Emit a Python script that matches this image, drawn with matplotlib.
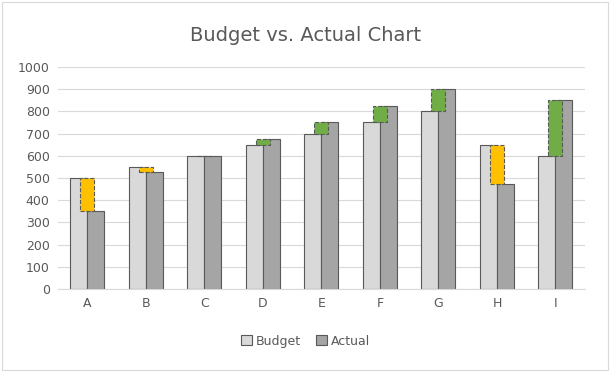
import matplotlib.pyplot as plt
import numpy as np

categories = ['A', 'B', 'C', 'D', 'E', 'F', 'G', 'H', 'I']
budget = [500, 550, 600, 650, 700, 750, 800, 650, 600]
actual = [350, 525, 600, 675, 750, 825, 900, 475, 850]

fig = plt.figure(figsize=(6.11, 3.72), dpi=100)
ax = fig.add_axes([0.095, 0.223, 0.862, 0.597])

x = np.arange(len(categories))
w = 0.29
ax.bar(x - w / 2, budget, w, color='#D9D9D9', edgecolor='#595959',
       linewidth=0.8, label='Budget', zorder=2)
ax.bar(x + w / 2, actual, w, color='#A5A5A5', edgecolor='#595959',
       linewidth=0.8, label='Actual', zorder=2)

# variance bars floating between budget and actual
for i in range(len(categories)):
    lo = min(budget[i], actual[i])
    hi = max(budget[i], actual[i])
    col = '#70AD47' if actual[i] >= budget[i] else '#FFC000'
    ax.bar(x[i], hi - lo, 0.24, bottom=lo, color=col, edgecolor='#595959',
           linewidth=0.8, linestyle='--', zorder=3)

ax.set_xlim(-0.5, len(categories) - 0.5)
ax.set_ylim(0, 1000)
ax.set_yticks(range(0, 1001, 100))
ax.set_xticks(x)
ax.set_xticklabels(categories)
ax.yaxis.grid(True, color='#D9D9D9', linewidth=0.8, zorder=0)
ax.set_axisbelow(True)
for s in ['top', 'right', 'left']:
    ax.spines[s].set_visible(False)
ax.spines['bottom'].set_color('#D9D9D9')
ax.tick_params(length=0, labelsize=9, colors='#595959', pad=6)

fig.text(0.5, 0.905, 'Budget vs. Actual Chart', ha='center', va='center',
         fontsize=14, color='#595959')
fig.legend(*ax.get_legend_handles_labels(), loc='center', ncol=2,
           bbox_to_anchor=(0.5, 0.083), frameon=False, fontsize=9,
           handlelength=0.9, handleheight=0.9, columnspacing=1.2,
           handletextpad=0.3, labelcolor='#595959')

fig.patches.append(plt.Rectangle((0.003, 0.005), 0.992, 0.99,
                                 transform=fig.transFigure, fill=False,
                                 edgecolor='#D9D9D9', linewidth=0.8))

fig.savefig('out.png', dpi=100)
